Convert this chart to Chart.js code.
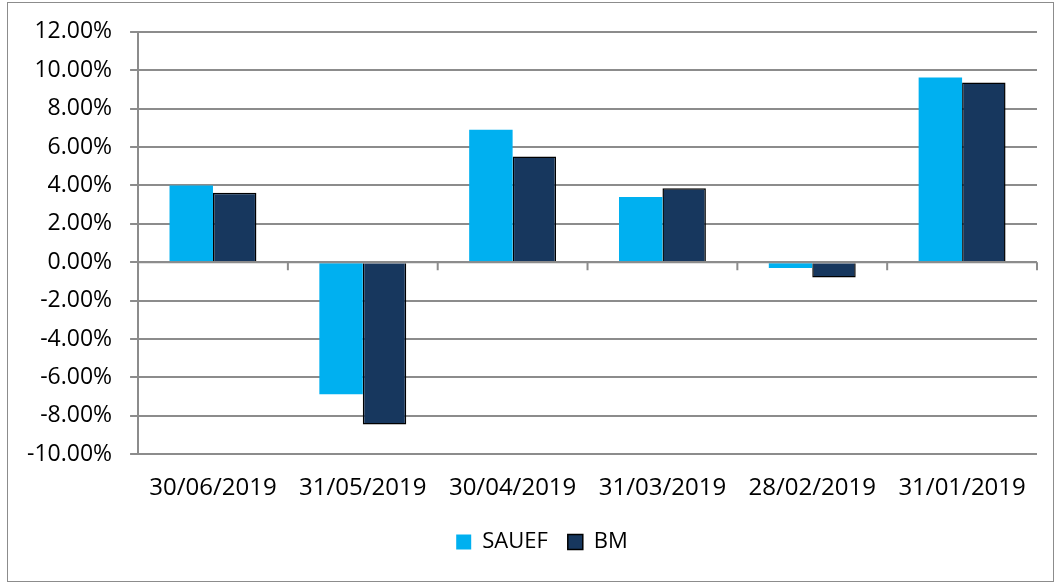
<!DOCTYPE html>
<html>
<head>
<meta charset="utf-8">
<script src="https://cdn.jsdelivr.net/npm/chart.js@4.4.1/dist/chart.umd.min.js"></script>
<style>
    html, body { margin: 0; padding: 0; background: #fff; }
    #frame {
        position: absolute; left: 7px; top: 2px;
        width: 1045px; height: 578px;
        border: 1px solid #8c8c8c;
    }
    #chart { position: absolute; left: 0; top: 0; }
</style>
</head>
<body>
<div id="frame"></div>
<canvas id="chart" width="1055" height="583"></canvas>
<script>
// Monthly returns
const dates = ['30/06/2019', '31/05/2019', '30/04/2019', '31/03/2019', '28/02/2019', '31/01/2019'];
const sauef = [0.0400, -0.0688, 0.0690, 0.0340, -0.0030, 0.0962];
const bm = [0.0362, -0.0845, 0.0550, 0.0385, -0.0080, 0.0936];

const gridGray = '#8c8c8c';

// Draw the horizontal axis at zero with its tick marks between categories
const zeroAxis = {
    id: 'zeroAxis',
    afterDatasetsDraw(chart) {
        const ctx = chart.ctx;
        const x = chart.scales.x;
        const y0 = chart.scales.y.getPixelForValue(0);
        ctx.save();
        ctx.strokeStyle = gridGray;
        ctx.lineWidth = 2;
        ctx.beginPath();
        ctx.moveTo(chart.chartArea.left, y0);
        ctx.lineTo(chart.chartArea.right, y0);
        for (let i = 0; i <= dates.length; i++) {
            const px = x.getPixelForValue(i - 0.5);
            ctx.moveTo(px, y0);
            ctx.lineTo(px, y0 + 8);
        }
        ctx.stroke();
        ctx.restore();
    }
};

// Nudge the legend to where it sits in the original
const legendNudge = {
    id: 'legendNudge',
    afterLayout(chart) {
        const lg = chart.legend;
        lg.left += 19; lg.right += 19;
        lg.top -= 12; lg.bottom -= 12;
    }
};

new Chart(document.getElementById('chart'), {
    type: 'bar',
    data: {
        labels: dates,
        datasets: [
            {
                label: 'SAUEF',
                data: sauef,
                backgroundColor: '#00b0f0',
                borderWidth: 0
            },
            {
                label: 'BM',
                data: bm,
                backgroundColor: '#17375e',
                borderColor: '#000000',
                borderWidth: 1.5
            }
        ]
    },
    options: {
        responsive: false,
        animation: false,
        categoryPercentage: 0.58,
        barPercentage: 1,
        layout: { padding: { left: 9, right: 18, top: 19.5, bottom: 8 } },
        plugins: {
            tooltip: { enabled: false },
            legend: {
                position: 'bottom',
                labels: {
                    color: '#000',
                    boxWidth: 15,
                    boxHeight: 15,
                    padding: 20,
                    font: { family: 'Open Sans', size: 22 }
                }
            }
        },
        scales: {
            x: {
                grid: { display: false, drawTicks: false },
                border: { display: false },
                ticks: {
                    color: '#000',
                    padding: 20,
                    maxRotation: 0,
                    font: { family: 'Open Sans', size: 24 }
                }
            },
            y: {
                min: -0.10,
                max: 0.12,
                grid: { color: gridGray, lineWidth: 2, tickLength: 8 },
                border: { color: gridGray, width: 2 },
                ticks: {
                    stepSize: 0.02,
                    color: '#000',
                    padding: 18,
                    font: { family: 'Open Sans', size: 23 },
                    callback: v => (v * 100).toFixed(2) + '%'
                }
            }
        }
    },
    plugins: [zeroAxis, legendNudge]
});
</script>
</body>
</html>
